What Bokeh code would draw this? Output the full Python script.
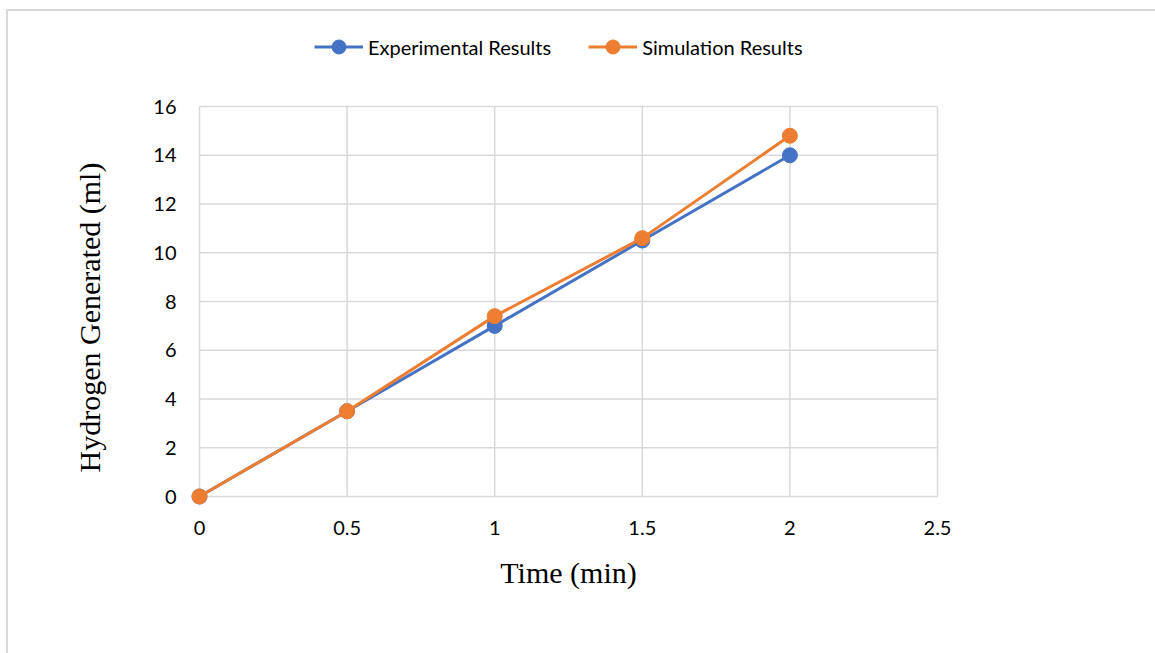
from bokeh.plotting import figure
from bokeh.layouts import column
from bokeh.models import Range1d, FixedTicker, Legend, LegendItem, NumeralTickFormatter
from bokeh.embed import file_html
from bokeh.resources import INLINE

# ---- data ----
time_min = [0, 0.5, 1, 1.5, 2]
experimental = [0, 3.5, 7, 10.5, 14]
simulation = [0, 3.5, 7.4, 10.6, 14.8]
x_ticks = [0, 0.5, 1, 1.5, 2, 2.5]
y_ticks = [0, 2, 4, 6, 8, 10, 12, 14, 16]
series_names = ["Experimental Results", "Simulation Results"]
x_title = "Time (min)"
y_title = "Hydrogen Generated (ml)"

# ---- layout ----
BLUE = "#4472C4"
ORANGE = "#ED7D31"
GRID = "#d9d9d9"
W = 1147
LEG_H = 60
H = 582
EXTRA = 32          # frame extends below the plot area so the y title sits lower
LEFT, RIGHT, TOP, BOTTOM = 181, 208, 25, 147 - EXTRA
PAD = 10
frame_w = W - LEFT - RIGHT
frame_h = H - TOP - BOTTOM
x_span = x_ticks[-1] - x_ticks[0]
y_span = y_ticks[-1] - y_ticks[0]
x_unit = (frame_w - 2 * PAD) / x_span
y_unit = (frame_h - 2 * PAD - EXTRA) / y_span

p = figure(
    width=W, height=H,
    x_range=Range1d(x_ticks[0] - PAD / x_unit, x_ticks[-1] + PAD / x_unit),
    y_range=Range1d(y_ticks[0] - (PAD + EXTRA) / y_unit, y_ticks[-1] + PAD / y_unit),
    output_backend="svg", toolbar_location=None,
    min_border_left=LEFT, min_border_right=RIGHT,
    min_border_top=TOP, min_border_bottom=BOTTOM,
)
p.outline_line_color = None
p.xgrid.visible = False
p.ygrid.visible = False

# grid drawn from tick lists so that it stops at the axis extents
nx, ny = len(x_ticks), len(y_ticks)
p.segment(x0=x_ticks, y0=[y_ticks[0]] * nx, x1=x_ticks, y1=[y_ticks[-1]] * nx,
          line_color=GRID, line_width=1.5)
p.segment(x0=[x_ticks[0]] * ny, y0=y_ticks, x1=[x_ticks[-1]] * ny, y1=y_ticks,
          line_color=GRID, line_width=1.5)

p.line(time_min, experimental, line_color=BLUE, line_width=3)
p.scatter(time_min, experimental, size=15, fill_color=BLUE, line_color=BLUE)
p.line(time_min, simulation, line_color=ORANGE, line_width=3)
p.scatter(time_min, simulation, size=15, fill_color=ORANGE, line_color=ORANGE)

for ax in (p.xaxis[0], p.yaxis[0]):
    ax.axis_line_color = None
    ax.major_tick_line_color = None
    ax.minor_tick_line_color = None
    ax.major_tick_out = 0
    ax.major_tick_in = 0
    ax.minor_tick_out = 0
    ax.major_label_text_font = "Lato"
    ax.major_label_text_font_size = "20px"
    ax.major_label_text_color = "#000000"
    ax.axis_label_text_font = "Liberation Serif"
    ax.axis_label_text_font_size = "30px"
    ax.axis_label_text_font_style = "normal"
    ax.axis_label_text_color = "#000000"

p.xaxis.ticker = FixedTicker(ticks=x_ticks)
p.yaxis.ticker = FixedTicker(ticks=y_ticks)
p.xaxis.formatter = NumeralTickFormatter(format="0.[0]")
p.yaxis.formatter = NumeralTickFormatter(format="0")
p.xaxis.major_label_standoff = 14 - EXTRA
p.yaxis.major_label_standoff = 13
p.xaxis.axis_label = x_title
p.xaxis.axis_label_standoff = 18
p.yaxis.axis_label = y_title
p.yaxis.axis_label_standoff = 44

# ---- legend strip (separate figure so the legend is not clipped) ----
pl = figure(
    width=W, height=LEG_H,
    x_range=Range1d(-10, -9), y_range=Range1d(-10, -9),
    x_axis_type=None, y_axis_type=None,
    output_backend="svg", toolbar_location=None,
    min_border_left=0, min_border_right=0, min_border_top=0, min_border_bottom=0,
)
pl.outline_line_color = None
pl.xgrid.visible = False
pl.ygrid.visible = False
d1 = pl.line(time_min, experimental, line_color=BLUE, line_width=3)
e1 = pl.scatter(time_min, experimental, size=15, fill_color=BLUE, line_color=BLUE)
d2 = pl.line(time_min, simulation, line_color=ORANGE, line_width=3)
e2 = pl.scatter(time_min, simulation, size=15, fill_color=ORANGE, line_color=ORANGE)

legend = Legend(
    items=[LegendItem(label=series_names[0], renderers=[d1, e1]),
           LegendItem(label=series_names[1], renderers=[d2, e2])],
    orientation="horizontal",
    location=(125, 7),
    padding=0, margin=0, spacing=37,
    border_line_color=None, background_fill_alpha=0,
    glyph_width=49, glyph_height=35, label_standoff=5,
    label_text_font="Lato", label_text_font_size="20px",
    label_text_color="#000000",
)
pl.add_layout(legend)

layout = column(pl, p, spacing=0)
layout.margin = (9, 0, 0, 6)
layout.styles = {"border-left": "2px solid #d9d9d9", "border-top": "2px solid #d9d9d9"}

open("out.html", "w").write(file_html(layout, INLINE))
